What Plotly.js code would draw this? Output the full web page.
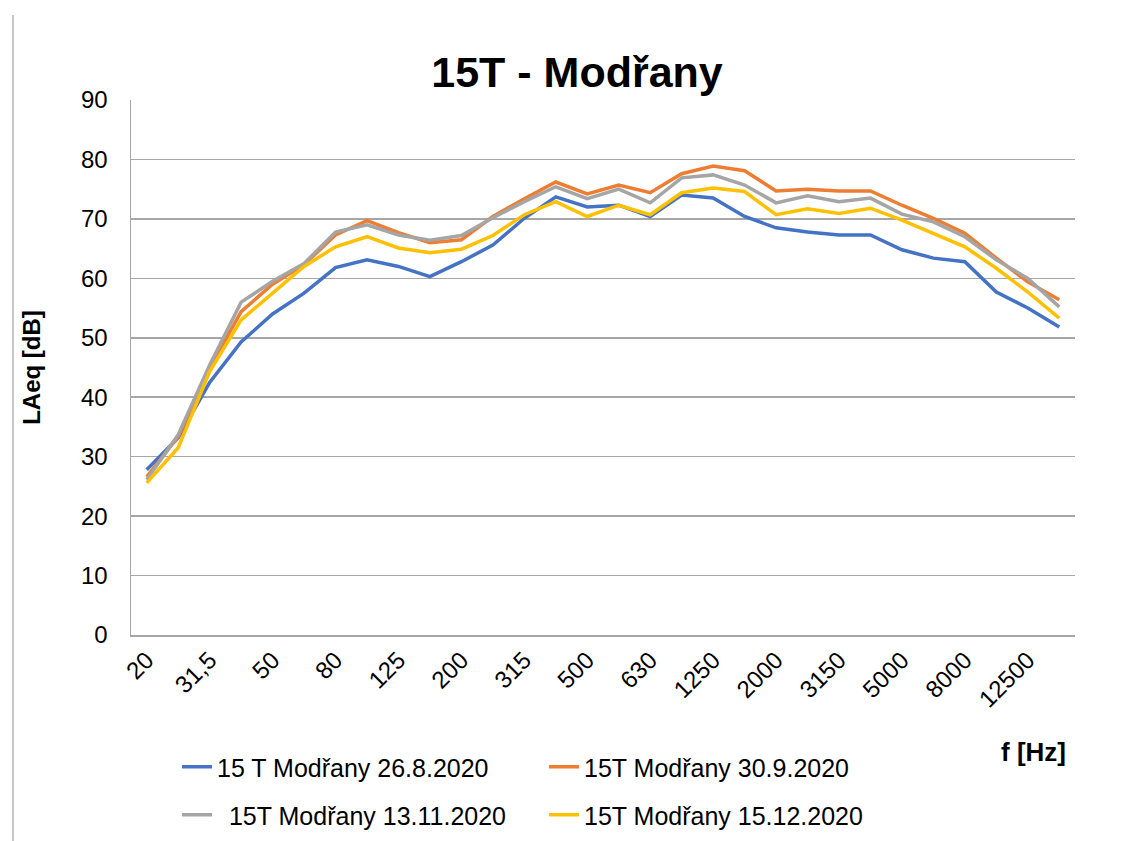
<!DOCTYPE html>
<html>
<head>
<meta charset="utf-8">
<script src="https://cdn.plot.ly/plotly-3.0.1.min.js"></script>
<style>
  html, body { margin: 0; padding: 0; background: #ffffff; }
  #chart { width: 1132px; height: 841px; }
</style>
</head>
<body>
<div id="chart"></div>
<script>
// Third-octave band categories
const freqs = ['20','25','31,5','40','50','63','80','100','125','160','200','250','315','400','500',
               '630','800','1000','1250','1600','2000','2500','3150','4000','5000','6300','8000','10000','12500','16000'];
// Tick labels as printed on the original chart (every second band)
const tickLabels = ['20','31,5','50','80','125','200','315','500','630','1250','2000','3150','5000','8000','12500'];

const seriesNames = ['15 T Modřany 26.8.2020', '15T Modřany 30.9.2020', '\u00a0\u200915T Modřany 13.11.2020', '15T Modřany 15.12.2020'];

const aug26 = [27.8, 33.2, 42.5, 49.3, 54.0, 57.5, 61.8, 63.1, 62.0, 60.3, 62.8, 65.6, 70.1, 73.7, 72.0,
               72.3, 70.4, 74.0, 73.5, 70.4, 68.5, 67.8, 67.3, 67.3, 64.8, 63.4, 62.8, 57.7, 55.0, 51.8];
const sep30 = [26.6, 33.4, 44.9, 54.4, 59.0, 62.3, 67.3, 69.7, 67.7, 66.0, 66.5, 70.4, 73.4, 76.2, 74.2,
               75.7, 74.4, 77.6, 78.9, 78.1, 74.7, 75.0, 74.7, 74.7, 72.3, 70.1, 67.6, 63.4, 59.4, 56.4];
const nov13 = [26.1, 33.7, 45.4, 56.0, 59.5, 62.5, 67.8, 69.0, 67.3, 66.4, 67.2, 70.2, 72.9, 75.4, 73.4,
               75.0, 72.7, 76.9, 77.4, 75.7, 72.7, 73.9, 72.9, 73.5, 70.8, 69.5, 67.0, 63.1, 60.0, 55.2];
const dec15 = [25.6, 31.5, 44.3, 53.0, 57.5, 62.0, 65.3, 67.0, 65.1, 64.3, 64.9, 67.2, 70.7, 72.9, 70.4,
               72.3, 70.7, 74.4, 75.2, 74.6, 70.7, 71.7, 70.9, 71.8, 69.8, 67.6, 65.3, 61.7, 57.7, 53.3];

const colors = ['#4472C4', '#ED7D31', '#A5A5A5', '#FFC000'];
const allSeries = [aug26, sep30, nov13, dec15];
const legendIds = ['legend', 'legend', 'legend2', 'legend2'];

const FONT = 'Liberation Sans, Arial, sans-serif';

const traces = allSeries.map((vals, i) => ({
  type: 'scatter',
  mode: 'lines',
  x: freqs,
  y: vals,
  name: seriesNames[i],
  legend: legendIds[i],
  line: { color: colors[i], width: 3.5 },
  hoverinfo: 'x+y+name'
}));

const tickVals = freqs.filter((f, i) => i % 2 === 0);

const W = 1132, H = 841;
const plotL = 131, plotR = 1075, plotT = 100, plotB = 635;
const pw = plotR - plotL, ph = plotB - plotT;
const px = X => (X - plotL) / pw;
const py = Y => (plotB - Y) / ph;

const layout = {
  width: W,
  height: H,
  paper_bgcolor: '#ffffff',
  plot_bgcolor: '#ffffff',
  margin: { l: plotL, r: W - plotR, t: plotT, b: H - plotB, pad: 0, autoexpand: false },
  font: { family: FONT, color: '#000000', size: 24 },
  title: {
    text: '15T - Modřany',
    font: { family: FONT, size: 43, weight: 'bold', color: '#000000' },
    x: 577 / W, xref: 'container', xanchor: 'center',
    y: 1 - 72 / H, yref: 'container', yanchor: 'middle'
  },
  xaxis: {
    type: 'category',
    range: [-0.5, freqs.length - 0.5],
    tickmode: 'array',
    tickvals: tickVals,
    ticktext: tickLabels,
    tickangle: -45,
    tickfont: { family: FONT, size: 24, color: '#000000' },
    showgrid: false,
    zeroline: false,
    showline: true,
    linecolor: '#a6a6a6',
    linewidth: 1.5,
    ticks: '',
    automargin: false,
    fixedrange: true
  },
  yaxis: {
    range: [0, 90],
    tickmode: 'linear',
    tick0: 0,
    dtick: 10,
    tickfont: { family: FONT, size: 24, color: '#000000' },
    showgrid: true,
    gridcolor: '#a6a6a6',
    gridwidth: 1.5,
    zeroline: false,
    showline: true,
    linecolor: '#a6a6a6',
    linewidth: 1.5,
    ticks: '',
    ticklabelstandoff: 17,
    automargin: false,
    fixedrange: true,
    title: {
      text: 'LAeq [dB]',
      font: { family: FONT, size: 24, weight: 'bold', color: '#000000' },
      standoff: 33
    }
  },
  legend: {
    orientation: 'h',
    x: px(177), xanchor: 'left',
    y: py(767), yanchor: 'middle',
    entrywidth: 322,
    entrywidthmode: 'pixels',
    bgcolor: 'rgba(0,0,0,0)',
    borderwidth: 0,
    font: { family: FONT, size: 25, color: '#000000' }
  },
  legend2: {
    orientation: 'h',
    x: px(177), xanchor: 'left',
    y: py(815), yanchor: 'middle',
    entrywidth: 322,
    entrywidthmode: 'pixels',
    bgcolor: 'rgba(0,0,0,0)',
    borderwidth: 0,
    font: { family: FONT, size: 25, color: '#000000' }
  },
  annotations: [{
    text: 'f [Hz]',
    xref: 'paper', yref: 'paper',
    x: px(1068), xanchor: 'right',
    y: py(752), yanchor: 'middle',
    showarrow: false,
    font: { family: FONT, size: 26, weight: 'bold', color: '#000000' }
  }],
  shapes: [{
    type: 'line', xref: 'paper', yref: 'paper',
    x0: px(13), x1: px(13), y0: py(841), y1: py(15),
    line: { color: '#b4b4b4', width: 1.5 }
  }],
  showlegend: true
};

Plotly.newPlot('chart', traces, layout, { displayModeBar: false, staticPlot: true });
</script>
</body>
</html>
